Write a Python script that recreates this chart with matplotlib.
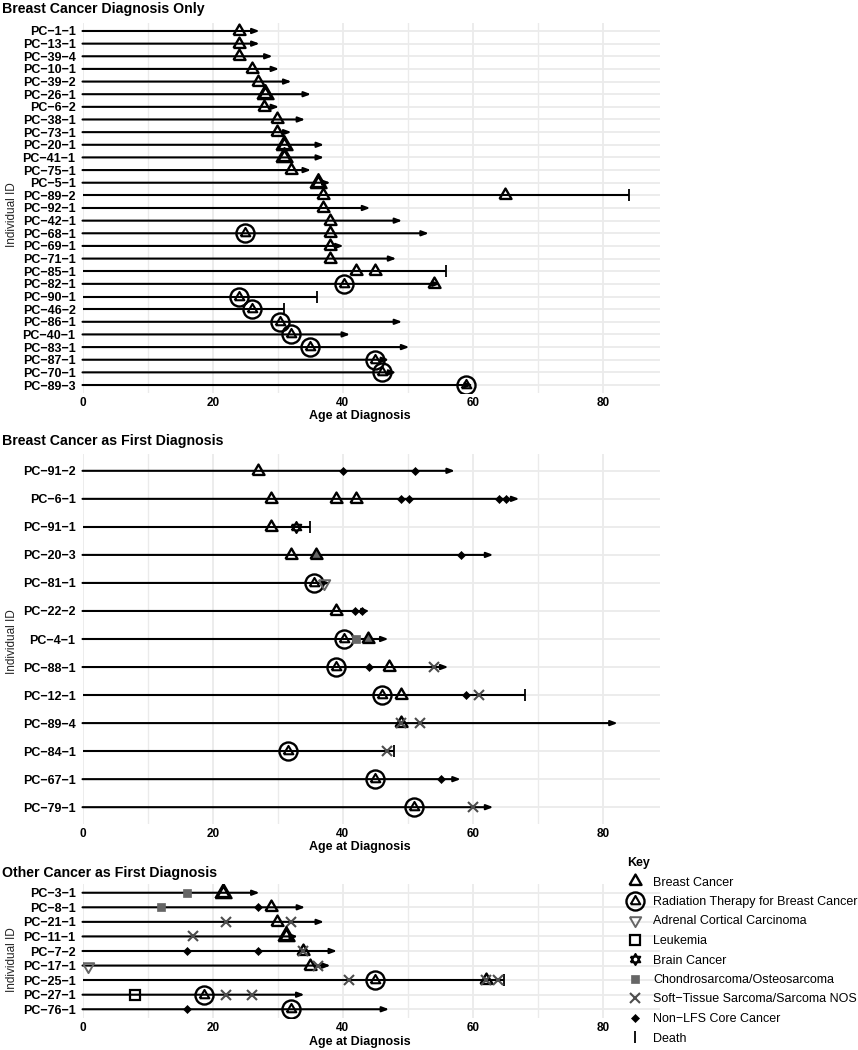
import matplotlib
matplotlib.use("Agg")
import matplotlib.pyplot as plt
from matplotlib.lines import Line2D
from matplotlib.legend_handler import HandlerTuple

plt.rcParams["font.family"] = ["Liberation Sans", "DejaVu Sans"]

W, H = 858, 1050
MINUS = "\u2212"

# ---- panel 1: breast cancer diagnosis only ----
ids1 = ["PC-1-1", "PC-13-1", "PC-39-4", "PC-10-1", "PC-39-2", "PC-26-1", "PC-6-2",
        "PC-38-1", "PC-73-1", "PC-20-1", "PC-41-1", "PC-75-1", "PC-5-1", "PC-89-2",
        "PC-92-1", "PC-42-1", "PC-68-1", "PC-69-1", "PC-71-1", "PC-85-1", "PC-82-1",
        "PC-90-1", "PC-46-2", "PC-86-1", "PC-40-1", "PC-83-1", "PC-87-1", "PC-70-1",
        "PC-89-3"]
end1 = [27.2, 27.2, 29.2, 30.2, 32.1, 35.1, 30.2, 34.2, 32.1, 37.1, 37.1, 35.1, 38.1, 84.0,
        44.2, 49.1, 53.2, 40.1, 48.2, 55.9, 55.0, 36.0, 31.0, 49.1, 41.1, 50.2, 47.1, 48.2,
        60.0]
dead1 = ["PC-89-2", "PC-85-1", "PC-90-1", "PC-46-2"]
events1 = [
    [(24.0, "B")], [(24.0, "B")], [(24.0, "B")], [(26.0, "B")], [(27.0, "B")],
    [(28.1, "B2")], [(27.9, "B")], [(29.9, "B")], [(29.9, "B")], [(30.9, "B2")],
    [(30.9, "B2")], [(32.0, "B")], [(36.1, "B2")], [(37.0, "B"), (64.9, "B")],
    [(37.0, "B")], [(38.0, "B")], [(25.0, "R"), (38.0, "B")], [(38.0, "B")],
    [(38.0, "B")], [(42.0, "B"), (44.9, "B")], [(40.1, "R"), (54.0, "B")],
    [(24.0, "R")], [(26.0, "R")], [(30.4, "R")], [(32.0, "R")], [(35.0, "R")],
    [(44.9, "R")], [(46.0, "R")], [(58.9, "R")],
]

# ---- panel 2: breast cancer as first diagnosis ----
ids2 = ["PC-91-2", "PC-6-1", "PC-91-1", "PC-20-3", "PC-81-1", "PC-22-2", "PC-4-1",
        "PC-88-1", "PC-12-1", "PC-89-4", "PC-84-1", "PC-67-1", "PC-79-1"]
end2 = [57.2, 67.1, 34.9, 63.1, 38.0, 44.1, 47.0, 56.2, 68.0, 82.2, 47.8, 58.1, 63.1]
dead2 = ["PC-91-1", "PC-12-1", "PC-84-1"]
events2 = [
    [(27.0, "B"), (40.0, "D"), (51.0, "D")],
    [(28.9, "B"), (38.9, "B"), (42.0, "B"), (48.9, "D"), (50.1, "D"), (64.0, "D"), (65.0, "D")],
    [(28.9, "B"), (32.8, "S")],
    [(32.0, "B"), (35.9, "Bg"), (58.1, "D")],
    [(35.5, "R"), (37.1, "A")],
    [(38.9, "B"), (41.9, "D"), (42.9, "D")],
    [(40.1, "R"), (42.0, "C"), (43.9, "Bg")],
    [(38.9, "R"), (44.0, "D"), (47.0, "B"), (54.0, "X")],
    [(46.0, "R"), (48.9, "B"), (58.9, "D"), (60.9, "X")],
    [(48.9, "B"), (48.9, "X"), (51.9, "X")],
    [(31.5, "R"), (46.8, "X")],
    [(45.0, "R"), (55.0, "D")],
    [(50.9, "R"), (60.0, "X")],
]

# ---- panel 3: other cancer as first diagnosis ----
ids3 = ["PC-3-1", "PC-8-1", "PC-21-1", "PC-11-1", "PC-7-2", "PC-17-1", "PC-25-1",
        "PC-27-1", "PC-76-1"]
end3 = [27.2, 34.2, 37.1, 33.1, 39.1, 38.1, 64.8, 34.1, 47.1]
dead3 = ["PC-25-1"]
events3 = [
    [(16.0, "C"), (21.6, "B2")],
    [(12.0, "C"), (26.9, "D"), (28.9, "B")],
    [(22.0, "X"), (29.9, "B"), (32.0, "X")],
    [(16.9, "X"), (31.3, "B2")],
    [(16.0, "D"), (26.9, "D"), (33.9, "B"), (33.9, "X")],
    [(0.9, "A"), (34.9, "B"), (36.2, "X")],
    [(41.0, "X"), (45.0, "R"), (62.0, "B"), (62.0, "X"), (63.8, "X")],
    [(8.0, "L"), (18.7, "R"), (22.0, "X"), (26.1, "X")],
    [(16.0, "D"), (32.0, "R")],
]

legend_labels = ["Breast Cancer", "Radiation Therapy for Breast Cancer",
                 "Adrenal Cortical Carcinoma", "Leukemia", "Brain Cancer",
                 "Chondrosarcoma/Osteosarcoma", "Soft" + MINUS + "Tissue Sarcoma/Sarcoma NOS",
                 "Non" + MINUS + "LFS Core Cancer", "Death"]

TRI = [(-1, -0.577), (1, -0.577), (0, 1.155), (-1, -0.577)]
TRI_D = [(-1, 0.577), (1, 0.577), (0, -1.155), (-1, 0.577)]
GRAY = "#666666"
XGRAY = "#4d4d4d"


def style(code):
    if code == "B":
        return [dict(marker=TRI, ms=10, mfc="none", mec="k", mew=1.7)]
    if code == "B2":
        return [dict(marker=TRI, ms=10, mfc="none", mec="k", mew=1.6),
                dict(marker=TRI, ms=13.5, mfc="none", mec="k", mew=1.6)]
    if code == "Bg":
        return [dict(marker=TRI, ms=10, mfc=GRAY, mec="k", mew=1.7)]
    if code == "R":
        return [dict(marker="o", ms=13, mfc="none", mec="k", mew=1.7),
                dict(marker=TRI, ms=8, mfc="none", mec="k", mew=1.5)]
    if code == "A":
        return [dict(marker=TRI_D, ms=9.5, mfc="none", mec=GRAY, mew=1.4)]
    if code == "L":
        return [dict(marker="s", ms=6.5, mfc="none", mec="k", mew=1.6)]
    if code == "S":
        return [dict(marker=TRI, ms=8, mfc="none", mec="k", mew=1.4),
                dict(marker=TRI_D, ms=8, mfc="none", mec="k", mew=1.4)]
    if code == "C":
        return [dict(marker="s", ms=5.5, mfc=GRAY, mec=GRAY, mew=0.5)]
    if code == "X":
        return [dict(marker="x", ms=7, mec=XGRAY, mew=1.5)]
    if code == "D":
        return [dict(marker="D", ms=4.2, mfc="k", mec="k", mew=0.5)]
    return []


def px(x, y):
    return x / W, 1 - y / H


fig = plt.figure(figsize=(W / 100, H / 100), dpi=100)

X0, X1 = 82.5, 660.0
panels = [
    (ids1, end1, dead1, events1, 23.4, 392.6, "Breast Cancer Diagnosis Only", 13, 419, 215),
    (ids2, end2, dead2, events2, 454.0, 824.0, "Breast Cancer as First Diagnosis", 445, 850, 642),
    (ids3, end3, dead3, events3, 884.0, 1018.0, "Other Cancer as First Diagnosis", 877, 1045, 960),
]

for ids, ends, dead, events, top, bot, title, title_y, xlab_y, ylab_y in panels:
    ax = fig.add_axes([X0 / W, 1 - bot / H, (X1 - X0) / W, (bot - top) / H])
    n = len(ids)
    for i in range(n):
        if ids[i] in dead:
            ax.plot([0, ends[i]], [i, i], color="k", lw=1.5, solid_capstyle="butt", zorder=2)
            ax.plot(ends[i], i, marker="|", ms=8, mew=1.3, color="k", zorder=3)
        else:
            ax.annotate("", xy=(ends[i], i), xytext=(0, i),
                        arrowprops=dict(arrowstyle="-|>,head_length=0.4,head_width=0.15",
                                        lw=1.5, color="k", shrinkA=0, shrinkB=0),
                        zorder=2)
        for age, code in events[i]:
            for st in style(code):
                ax.plot(age, i, linestyle="none", zorder=3, **st)

    ax.set_xlim(0, 88.7)
    ax.set_ylim(n - 1 + 0.6, -0.6)
    ax.set_yticks(range(n))
    ax.set_yticklabels([s.replace("-", MINUS) for s in ids], fontsize=9, fontweight="bold")
    ax.set_xticks([0, 20, 40, 60, 80])
    ax.set_xticks([10, 30, 50, 70], minor=True)
    ax.set_xticklabels(["0", "20", "40", "60", "80"], fontsize=8.5, fontweight="bold")
    ax.tick_params(axis="both", which="both", length=0)
    ax.tick_params(axis="y", pad=5)
    ax.tick_params(axis="x", pad=3)
    for s in ax.spines.values():
        s.set_visible(False)
    ax.grid(True, which="major", color="#EBEBEB", lw=1.3, zorder=0)
    ax.grid(True, which="minor", axis="x", color="#EBEBEB", lw=1.0, zorder=0)
    ax.set_axisbelow(True)

    fig.text(*px(2, title_y), title, fontsize=10.2, fontweight="bold", ha="left", va="baseline")
    fig.text(*px(360, xlab_y), "Age at Diagnosis", fontsize=9, fontweight="bold",
             ha="center", va="baseline")
    fig.text(*px(12, ylab_y), "Individual ID", fontsize=8.5, rotation=90, color="#222222",
             ha="center", va="center")

# legend
handles = [
    Line2D([], [], ls="none", **style("B")[0]),
    tuple(Line2D([], [], ls="none", **st) for st in style("R")),
    Line2D([], [], ls="none", **style("A")[0]),
    Line2D([], [], ls="none", **style("L")[0]),
    tuple(Line2D([], [], ls="none", **st) for st in style("S")),
    Line2D([], [], ls="none", **style("C")[0]),
    Line2D([], [], ls="none", **style("X")[0]),
    Line2D([], [], ls="none", **style("D")[0]),
    Line2D([], [], ls="none", marker="|", ms=8, mew=1.3, color="k"),
]
leg = fig.legend(handles, legend_labels, loc="upper left", bbox_to_anchor=px(627, 857),
                 frameon=False, fontsize=9, title="Key", alignment="left",
                 handler_map={tuple: HandlerTuple(ndivide=1, pad=0)},
                 handlelength=1.2, handletextpad=0.9, labelspacing=0.6, borderpad=0,
                 borderaxespad=0)
leg.get_title().set_fontweight("bold")
leg.get_title().set_fontsize(9)

fig.savefig("out.png", dpi=100)
